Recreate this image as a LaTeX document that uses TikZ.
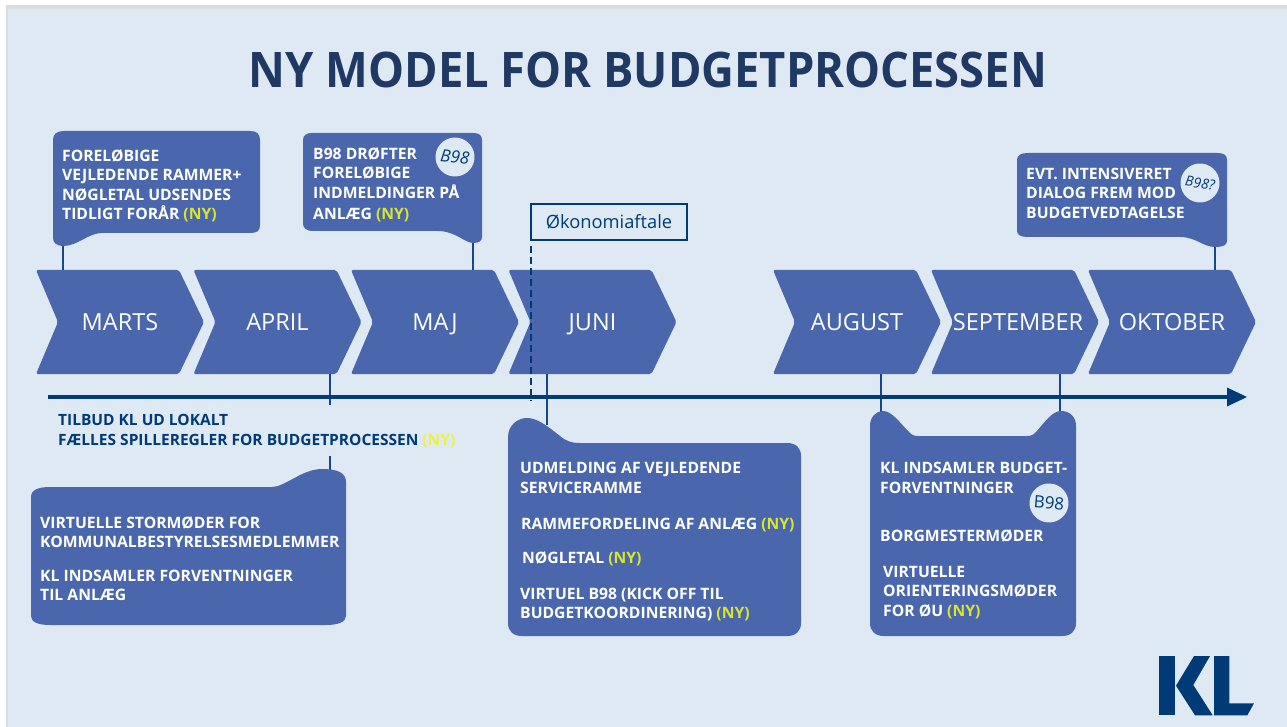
\documentclass[tikz,border=0pt]{standalone}
\usepackage{graphicx}
\usepackage{fontspec}
\setmainfont{Open Sans}
\definecolor{bgc}{HTML}{DFE9F4}
\definecolor{blk}{HTML}{4A66AC}
\definecolor{navy}{HTML}{003B78}
\definecolor{title}{HTML}{1F3864}
\definecolor{nyin}{HTML}{D9E52E}
\definecolor{nyout}{HTML}{EEF04A}
\definecolor{stripc}{HTML}{DCDCDC}
\newcommand{\NY}{\textcolor{nyin}{(NY)}}
\tikzset{
  blockshape/.style={fill=blk,draw=none},
  chevshape/.style={fill=blk,draw=none,rounded corners=2pt},
  monthlabel/.style={text=white,font=\fontsize{23.5}{27}\selectfont,inner sep=0pt,anchor=base},
  boxtext/.style={text=white,font=\bfseries\fontsize{15.7}{19.4}\selectfont,align=left,anchor=west,inner sep=0pt},
  linktext/.style={text=navy,font=\bfseries\fontsize{15.5}{20}\selectfont,align=left,anchor=west,inner sep=0pt},
  link/.style={draw=navy!70!blk,line width=1.5pt},
  badge/.style={circle,fill=bgc,minimum size=39pt,inner sep=0pt,text=navy,font=\itshape\fontsize{17}{20}\selectfont},
}
\newcommand{\chev}[4][0]{%
  \path[chevshape] (#2,270) -- ++(143,0) -- ++(25,52) -- ++(-25,52) -- ++(-143,0) -- ++(22,-52) -- cycle;
  \node[monthlabel] (#3) at (#2+84+#1,330.5) {#4};
}
\begin{document}
\begin{tikzpicture}[x=1pt,y=-1pt]
\useasboundingbox (0,0) rectangle (1287,727);
\fill[white] (0,0) rectangle (1287,727);
\fill[bgc] (6,7) rectangle (1287,727);
\fill[stripc] (6,5) rectangle (1287,9);
\fill[stripc] (6,5) rectangle (7.5,727);
\node[text=title,font=\bfseries\fontsize{49}{56}\selectfont,inner sep=0pt] (heading) at (648,70) {\scalebox{0.925}[1]{NY MODEL FOR BUDGETPROCESSEN}};
% named ends of the connectors
\coordinate (c1a) at (63,246); \coordinate (c1b) at (63,270);
\coordinate (c2a) at (473,243); \coordinate (c2b) at (473,270);
\coordinate (c3a) at (330,374); \coordinate (c3b) at (330,405);
\coordinate (c3c) at (330,456); \coordinate (c3d) at (330,470);
\coordinate (c4a) at (547,374); \coordinate (c4b) at (547,425);
\coordinate (c5a) at (881,374); \coordinate (c5b) at (881,412);
\coordinate (c6a) at (1060,374); \coordinate (c6b) at (1060,412);
\coordinate (c7a) at (1215,247); \coordinate (c7b) at (1215,270);
\coordinate (axl) at (48,397); \coordinate (axr) at (1227,397);
\coordinate (dasha) at (531,246); \coordinate (dashb) at (531,401);
% chevrons
\chev{36}{marts}{MARTS}
\chev{193.5}{april}{APRIL}
\chev{351}{maj}{MAJ}
\chev{508.5}{juni}{JUNI}
\chev{773}{august}{AUGUST}
\chev[3]{931}{september}{SEPTEMBER}
\chev{1088}{oktober}{OKTOBER}
% connectors
\foreach \a/\b in {c1a/c1b,c2a/c2b,c3a/c3b,c3c/c3d,c4a/c4b,c5a/c5b,c6a/c6b,c7a/c7b}
  \draw[link] (\a) -- (\b);
% axis
\draw[navy,line width=3.6pt] (axl) -- (axr);
\fill[navy] (axr) ++(0,-9.5) -- ++(20,9.5) -- ++(-20,9.5) -- cycle;
% callouts above
\path[blockshape] (53,140) .. controls (53,134) and (57,131) .. (64,131) -- (250,131) .. controls (257,131) and (260,134) .. (260,140) -- (260,225) .. controls (260,231) and (257,233) .. (250,233) -- (102,233) .. controls (88,233) and (78,246) .. (63,246) .. controls (57,246) and (53,243) .. (53,238) -- cycle;
\path[blockshape] (303,140) .. controls (303,135) and (307,133) .. (312,133) -- (473,133) .. controls (479,133) and (482,135) .. (482,140) -- (482,237) .. controls (482,241) and (479,243) .. (473,243) .. controls (465,243) and (455,231) .. (438,231) -- (312,231) .. controls (307,231) and (303,228) .. (303,224) -- cycle;
\path[blockshape] (1017,160) .. controls (1017,155) and (1021,153) .. (1028,153) -- (1217,153) .. controls (1224,153) and (1227,155) .. (1227,160) -- (1227,241) .. controls (1227,245) and (1223,247) .. (1215,247) .. controls (1203,247) and (1196,237) .. (1180,237) -- (1028,237) .. controls (1021,237) and (1017,235) .. (1017,231) -- cycle;
% blocks below
\path[blockshape] (31,497) .. controls (31,490) and (38,487) .. (50,487) -- (272,487) .. controls (285,487) and (302,469) .. (322,469) .. controls (338,469) and (346,473) .. (346,482) -- (346,616) .. controls (346,622) and (338,625) .. (326,625) -- (50,625) .. controls (38,625) and (31,622) .. (31,616) -- cycle;
\path[blockshape] (508,437) .. controls (508,425) and (518,418) .. (527,418) .. controls (537,418) and (546,425) .. (560,436) .. controls (566,441) and (571,443) .. (580,443) -- (787,443) .. controls (796,443) and (801,448) .. (801,456) -- (801,623) .. controls (801,631) and (796,636) .. (787,636) -- (522,636) .. controls (513,636) and (508,631) .. (508,623) -- cycle;
\path[blockshape] (870,426) .. controls (870,417) and (876,411) .. (883,411) .. controls (892,411) and (900,423) .. (909,432) .. controls (912,435) and (914,436) .. (918,436) -- (1027,436) .. controls (1031,436) and (1033,435) .. (1036,432) .. controls (1044,423) and (1052,411) .. (1061,411) .. controls (1070,411) and (1076,417) .. (1076,426) -- (1076,623) .. controls (1076,631) and (1071,636) .. (1062,636) -- (884,636) .. controls (875,636) and (870,631) .. (870,623) -- cycle;
% Oekonomiaftale
\node[draw=navy,line width=1.6pt,fill=none,text=navy,minimum width=156pt,minimum height=36pt,inner sep=0pt,font=\fontsize{18.3}{22}\selectfont] (oek) at (609,222) {Økonomiaftale};
\draw[navy,line width=1.8pt,dash pattern=on 7pt off 4pt] (dasha) -- (dashb);
% texts
\node[boxtext] (t1) at (62,186) {FORELØBIGE\\VEJLEDENDE RAMMER+\\NØGLETAL UDSENDES\\TIDLIGT FORÅR \NY};
\node[boxtext] (t2) at (313,173) {B98 DRØFTER\\FORELØBIGE\\INDMELDINGER PÅ};
\node[boxtext] (t2b) at (313,215) {ANLÆG \NY};
\node[boxtext] (t7) at (1026,193) {EVT. INTENSIVERET\\DIALOG FREM MOD\\BUDGETVEDTAGELSE};
\node[linktext] (t3) at (58,431.5) {TILBUD KL UD LOKALT\\FÆLLES SPILLEREGLER FOR BUDGETPROCESSEN \textcolor{nyout}{(NY)}};
\node[boxtext] (t4) at (40,532) {VIRTUELLE STORMØDER FOR\\KOMMUNALBESTYRELSESMEDLEMMER};
\node[boxtext] (t5) at (40,585.5) {KL INDSAMLER FORVENTNINGER\\TIL ANLÆG};
\node[boxtext] (t8) at (520,478) {UDMELDING AF VEJLEDENDE\\SERVICERAMME};
\node[boxtext] (t9) at (521,525) {RAMMEFORDELING AF ANLÆG \NY};
\node[boxtext] (t10) at (522,559) {NØGLETAL \NY};
\node[boxtext] (t11) at (520,604.5) {VIRTUEL B98 (KICK OFF TIL\\BUDGETKOORDINERING) \NY};
\node[boxtext] (t12) at (880,478) {KL INDSAMLER BUDGET-\\FORVENTNINGER};
\node[boxtext] (t13) at (880,536) {BORGMESTERMØDER};
\node[boxtext] (t14) at (883,592.5) {VIRTUELLE\\ORIENTERINGSMØDER\\FOR ØU \NY};
% badges
\node[badge,rotate=-6] (b1) at (455,157) {B98};
\node[badge,rotate=-5,font=\fontsize{17}{20}\selectfont] (b2) at (1049,503) {B98};
\node[badge,rotate=-8,font=\itshape\fontsize{14}{16}\selectfont] (b3) at (1200,183) {B98?};
% logo
\fill[navy] (1159.3,656) -- (1175,656) -- (1175,715.3) -- (1159.3,715.3) -- cycle;
\fill[navy] (1194,656) -- (1210,656) -- (1193.3,685) -- (1212.7,715.3) -- (1195,715.3) -- (1176,685.7) -- cycle;
\fill[navy] (1214,656) -- (1229.3,656) -- (1229.3,703.3) -- (1254,703.3) -- (1247.3,715.3) -- (1214,715.3) -- cycle;
\end{tikzpicture}
\end{document}
